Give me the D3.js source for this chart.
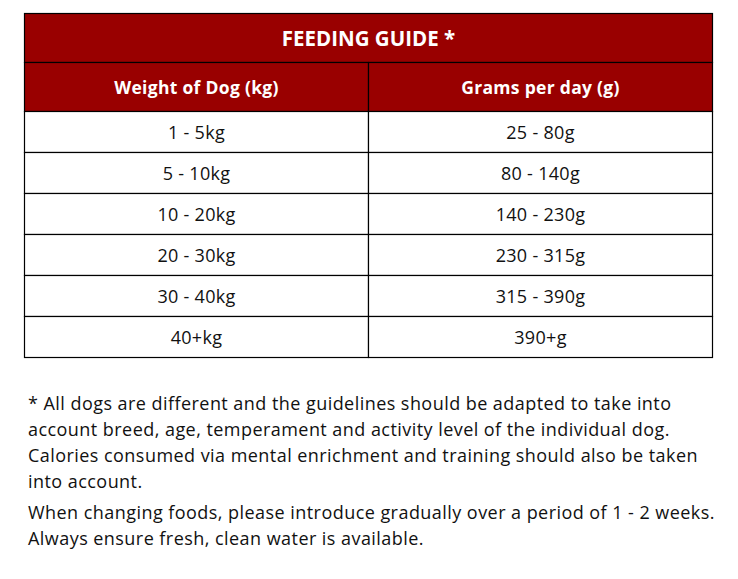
<!DOCTYPE html>
<html>
<head>
<meta charset="utf-8">
<script src="https://cdn.jsdelivr.net/npm/d3@7"></script>
<style>
  body { margin: 0; background: #fff; }
  text { font-family: "Open Sans", "Lato", sans-serif; }
</style>
</head>
<body>
<div id="canvas"></div>
<script>
const title = "FEEDING GUIDE *";
const headers = ["Weight of Dog (kg)", "Grams per day (g)"];
const weights = ["1 - 5kg", "5 - 10kg", "10 - 20kg", "20 - 30kg", "30 - 40kg", "40+kg"];
const grams = ["25 - 80g", "80 - 140g", "140 - 230g", "230 - 315g", "315 - 390g", "390+g"];
const notes = [
  ["* All dogs are different and the guidelines should be adapted to take into",
   "account breed, age, temperament and activity level of the individual dog.",
   "Calories consumed via mental enrichment and training should also be taken",
   "into account."],
  ["When changing foods, please introduce gradually over a period of 1 - 2 weeks.",
   "Always ensure fresh, clean water is available."]
];

const red = "#990000";

const svg = d3.select("#canvas").append("svg")
  .attr("width", 738)
  .attr("height", 579);

const tLeft = 24.5, tRight = 712.5, tTop = 13.5;
const titleH = 49, headH = 49, rowH = 41;

// columns
const x = d3.scaleBand()
  .domain([0, 1])
  .range([tLeft, tRight]);

// body rows
const y = d3.scaleBand()
  .domain(d3.range(weights.length))
  .range([tTop + titleH + headH, tTop + titleH + headH + rowH * weights.length]);

const table = svg.append("g");

// title band
table.append("rect")
  .attr("x", tLeft).attr("y", tTop)
  .attr("width", tRight - tLeft).attr("height", titleH)
  .attr("fill", red).attr("stroke", "#000").attr("stroke-width", 1.2);

table.append("text")
  .attr("x", (tLeft + tRight) / 2)
  .attr("y", tTop + titleH / 2)
  .attr("text-anchor", "middle")
  .attr("dominant-baseline", "central")
  .attr("fill", "#fff")
  .attr("font-size", 20.5)
  .attr("font-weight", "bold")
  .text(title);

// header cells
table.selectAll(".head")
  .data(headers)
  .enter().append("rect")
  .attr("x", (d, i) => x(i))
  .attr("y", tTop + titleH)
  .attr("width", x.bandwidth())
  .attr("height", headH)
  .attr("fill", red).attr("stroke", "#000").attr("stroke-width", 1.2);

table.selectAll(".headText")
  .data(headers)
  .enter().append("text")
  .attr("x", (d, i) => x(i) + x.bandwidth() / 2)
  .attr("y", tTop + titleH + headH / 2)
  .attr("text-anchor", "middle")
  .attr("dominant-baseline", "central")
  .attr("fill", "#fff")
  .attr("font-size", 17.5)
  .attr("font-weight", "bold")
  .attr("letter-spacing", 0.3)
  .text(d => d);

// body cells
const rows = weights.map((w, i) => [w, grams[i]]);

const rowG = table.selectAll(".row")
  .data(rows)
  .enter().append("g")
  .attr("transform", (d, i) => `translate(0,${y(i)})`);

rowG.selectAll("rect")
  .data(d => d)
  .enter().append("rect")
  .attr("x", (d, i) => x(i))
  .attr("y", 0)
  .attr("width", x.bandwidth())
  .attr("height", y.bandwidth())
  .attr("fill", "#fff").attr("stroke", "#000").attr("stroke-width", 1.2);

rowG.selectAll("text")
  .data(d => d)
  .enter().append("text")
  .attr("x", (d, i) => x(i) + x.bandwidth() / 2)
  .attr("y", y.bandwidth() / 2)
  .attr("text-anchor", "middle")
  .attr("dominant-baseline", "central")
  .attr("fill", "#111")
  .attr("font-size", 18)
  .attr("letter-spacing", 0.3)
  .text(d => d);

// footnotes
const noteG = svg.append("g");
let lineY = 410;
notes.forEach(para => {
  para.forEach(line => {
    noteG.append("text")
      .attr("x", 28)
      .attr("y", lineY)
      .attr("fill", "#111")
      .attr("font-size", 18)
      .attr("letter-spacing", 0.45)
      .text(line);
    lineY += 26;
  });
  lineY += 5;
});
</script>
</body>
</html>
